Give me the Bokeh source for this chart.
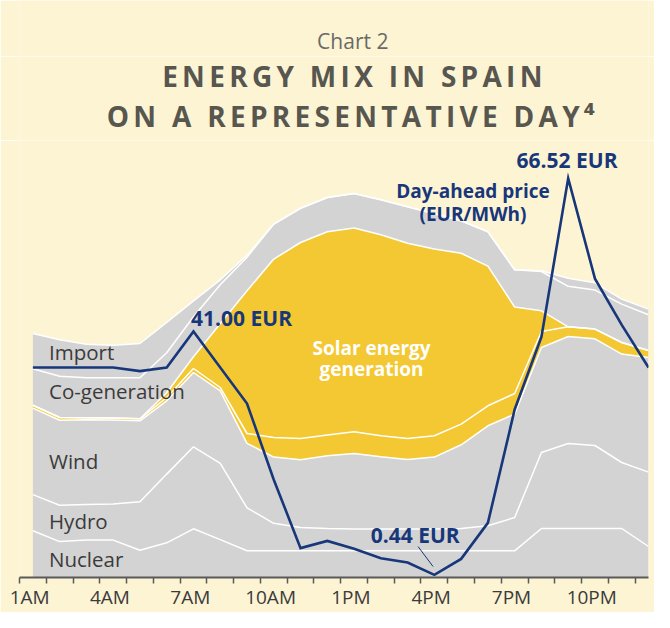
from bokeh.plotting import figure
from bokeh.layouts import column
from bokeh.models import Range1d, FixedTicker, ColumnDataSource, Label, CustomJSTickFormatter
from bokeh.embed import file_html
from bokeh.resources import INLINE

# ---------------- data ----------------
hours = list(range(1, 25))  # hourly points, 1AM .. midnight
tick_label_hours = [1, 4, 7, 10, 13, 16, 19, 22]
tick_labels = ["1AM", "4AM", "7AM", "10AM", "1PM", "4PM", "7PM", "10PM"]

# generation by source (GW, stacked bottom -> top)
nuclear = [4.67, 3.59, 3.74, 3.74, 2.72, 3.47, 4.87, 3.79, 2.67, 2.67, 2.67, 2.67,
           2.67, 2.67, 2.67, 2.67, 2.67, 2.67, 2.67, 4.90, 4.90, 4.90, 4.90, 3.10]
hydro = [3.62, 3.63, 3.56, 3.60, 4.85, 6.87, 8.20, 7.63, 4.30, 2.75, 2.33, 2.23,
         2.17, 2.17, 2.17, 2.17, 2.23, 2.50, 3.33, 7.60, 8.50, 8.30, 6.60, 7.44]
wind = [8.65, 8.50, 8.47, 8.40, 8.10, 7.33, 7.43, 7.25, 6.45, 6.62, 6.77, 7.27,
        7.56, 7.23, 6.96, 7.20, 8.37, 10.00, 10.34, 10.50, 10.70, 10.67, 10.84, 11.46]
solar_thermal = [0.28, 0.28, 0.20, 0.20, 0.20, 0.33, 0.40, 0.33, 0.98, 1.96, 2.13, 2.07,
                 2.17, 2.10, 2.10, 2.13, 2.07, 2.00, 2.06, 1.60, 0.97, 0.97, 1.16, 0.70]
solar_pv = [0, 0, 0, 0, 0, 0.47, 1.17, 6.37, 14.27, 17.84, 19.60, 20.33,
            20.37, 20.10, 19.52, 18.67, 17.08, 13.97, 8.64, 2.07, 0, 0, 0, 0]
cogeneration = [3.65, 4.12, 4.00, 4.03, 4.10, 4.00, 4.00, 3.90, 3.35, 3.50, 3.42, 3.43,
                3.46, 3.50, 3.65, 3.53, 3.25, 3.43, 3.73, 3.93, 4.05, 3.90, 3.84, 3.57]
imports = [3.52, 3.65, 3.35, 3.25, 3.43, 3.05, 1.60, 0.50, 0.20, 0, 0, 0,
           0, 0, 0, 0, 0, 0, 0, 0.07, 0.80, 0.73, 0.50, 0.57]

# day-ahead price (EUR/MWh)
price = [35.0, 35.0, 35.0, 35.0, 34.4, 35.0, 41.0, 35.0, 29.0, 16.3, 4.9, 6.1,
         4.8, 3.2, 2.5, 0.44, 3.1, 9.1, 28.0, 40.1, 66.52, 49.8, 42.1, 35.0]

layer_names = ["Nuclear", "Hydro", "Wind", "Solar thermal", "Solar PV", "Co-generation", "Import"]

# ---------------- style ----------------
BG = "#fdf4d4"
GREY = "#d3d3d3"
YELLOW = "#f3c832"
NAVY = "#17377a"
TXT = "#3b3b3b"
TITLE = "#57564f"
FONT = "Open Sans"
MID = 0.388  # distance baseline -> middle of the em box, in em

W = 654
TOP_C = 56      # height of the "Chart 2" strip
TOP_T = 84      # height of the title strip
MAIN_H = 612 - TOP_C - TOP_T
Y0 = TOP_C + TOP_T          # page y where the main figure starts
AXIS_Y = 577                # page y of the x axis
PX_PER_HOUR = 26.766
PX_PER_EUR = 6.0
FRAME_H = AXIS_Y - Y0


def X(px):
    return 0.5 + (px - 19) / PX_PER_HOUR


def Ymid(baseline_py, size):
    return (AXIS_Y - (baseline_py - MID * size)) / PX_PER_EUR


def text_fig(height, top):
    f = figure(width=W, height=height, output_backend="svg", toolbar_location=None,
               x_range=Range1d(0, W), y_range=Range1d(top + height, top),
               min_border=0, x_axis_location=None, y_axis_location=None,
               background_fill_color=BG, border_fill_color=BG, outline_line_color=None)
    f.grid.visible = False
    return f


def lab(fig, x, y, text, size, color, style="normal", align="left"):
    fig.add_layout(Label(x=x, y=y, text=text, text_font=FONT, text_font_size=f"{size}px",
                         text_color=color, text_font_style=style, text_align=align,
                         text_baseline="middle"))


# ---- "Chart 2" strip
fc = text_fig(TOP_C, 0)
lab(fc, 346.5, 48.3 - MID * 21, "Chart 2", 21, "#6a6a66", align="center")

# ---- title strip (letter-spaced like the original)
ft = text_fig(TOP_T, TOP_C)
ft.styles = {"letter-spacing": "4.3px"}
lab(ft, 148.3, 86.7 - MID * 28, "ENERGY MIX IN SPAIN", 28, TITLE, "bold")
lab(ft, 90.7, 126.7 - MID * 28, "ON A REPRESENTATIVE DAY\u2074", 28, TITLE, "bold")

# ---- main chart
p = figure(width=W, height=MAIN_H, output_backend="svg", toolbar_location=None,
           x_range=Range1d(0.5, 24), y_range=Range1d(0, FRAME_H / PX_PER_EUR),
           min_border_left=19, min_border_right=W - 648, min_border_top=0,
           min_border_bottom=MAIN_H - FRAME_H,
           x_axis_location="below", y_axis_location=None,
           background_fill_color=BG, border_fill_color=BG, outline_line_color=None)
p.extra_y_ranges = {"gw": Range1d(0, FRAME_H / 10.0)}
p.grid.visible = False

src = ColumnDataSource(dict(hour=hours, Nuclear=nuclear, Hydro=hydro, Wind=wind,
                            **{"Solar thermal": solar_thermal, "Solar PV": solar_pv,
                               "Co-generation": cogeneration, "Import": imports}))
colors = [GREY, GREY, GREY, YELLOW, YELLOW, GREY, GREY]
p.varea_stack(stackers=layer_names, x="hour", color=colors, source=src, y_range_name="gw")

# white separators between layers
cum = [0.0] * len(hours)
for series in [nuclear, hydro, wind, solar_thermal, solar_pv, cogeneration, imports]:
    cum = [c + s for c, s in zip(cum, series)]
    p.line(hours, list(cum), line_color="white", line_width=1.5, y_range_name="gw")

# price line
p.line(hours, price, line_color=NAVY, line_width=2.6, line_join="miter")

# x axis
p.xaxis.ticker = FixedTicker(ticks=[h - 0.12 for h in tick_label_hours],
                             minor_ticks=[h - 0.5 for h in hours])
p.xaxis.formatter = CustomJSTickFormatter(args=dict(labels=tick_labels),
                                          code="return labels[Math.round((tick + 0.12 - 1) / 3)];")
p.xaxis.axis_line_color = "#5a5a5a"
p.xaxis.axis_line_width = 2
p.xaxis.major_tick_line_color = None
p.xaxis.major_tick_out = 0
p.xaxis.major_tick_in = 0
p.xaxis.minor_tick_line_color = "#5a5a5a"
p.xaxis.minor_tick_line_width = 1.5
p.xaxis.minor_tick_out = 6
p.xaxis.minor_tick_in = 0
p.xaxis.major_label_standoff = 0
p.xaxis.major_label_text_font = FONT
p.xaxis.major_label_text_font_size = "19px"
p.xaxis.major_label_text_color = TXT

# layer labels
for name, py in [("Import", 359), ("Co-generation", 398.3), ("Wind", 468.3),
                 ("Hydro", 528.3), ("Nuclear", 566.7)]:
    lab(p, X(48.5), Ymid(py, 20.5), name, 20.5, TXT)

lab(p, X(371), Ymid(355, 19), "Solar energy", 19, "white", "bold", "center")
lab(p, X(371), Ymid(376, 19), "generation", 19, "white", "bold", "center")

lab(p, X(472.5), Ymid(198.3, 19), "Day-ahead price", 19, NAVY, "bold", "center")
lab(p, X(472.5), Ymid(221, 19), "(EUR/MWh)", 19, NAVY, "bold", "center")


# price call-outs, anchored on their data points (offsets in pixels)
def callout(i, dx_px, dy_px, size=21):
    x = hours[i] + dx_px / PX_PER_HOUR
    y = price[i] + (-dy_px + MID * size) / PX_PER_EUR
    lab(p, x, y, f"{price[i]:.2f} EUR", size, NAVY, "bold")


i_hi = price.index(max(price))
i_lo = price.index(min(price))
i_am = price.index(max(price[:12]))
callout(i_am, -2.4, -5.0)
callout(i_hi, -51.6, -10.6)
callout(i_lo, -63.7, -31.3)
p.segment(x0=[hours[i_lo] - 16.3 / PX_PER_HOUR], y0=[price[i_lo] + 28.3 / PX_PER_EUR],
          x1=[hours[i_lo] - 1.3 / PX_PER_HOUR], y1=[price[i_lo] + 8.3 / PX_PER_EUR],
          line_color=NAVY, line_width=1)

layout = column(fc, ft, p, spacing=0)
open("out.html", "w").write(file_html(layout, INLINE))
